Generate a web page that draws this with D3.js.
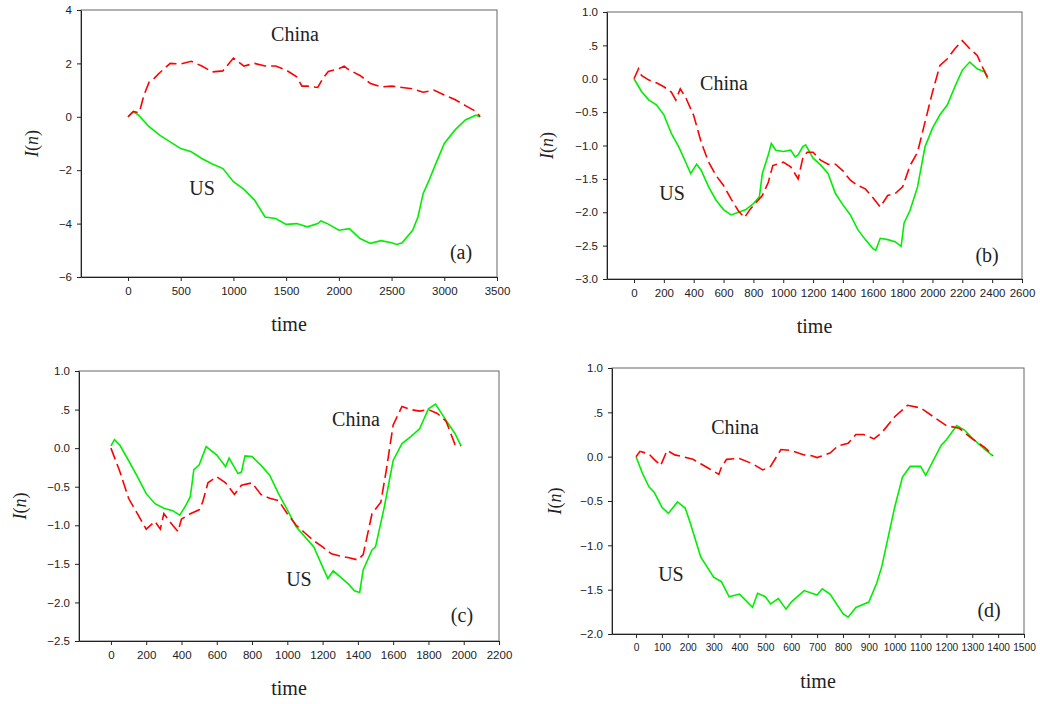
<!DOCTYPE html>
<html>
<head>
<meta charset="utf-8">
<script src="https://cdn.jsdelivr.net/npm/d3@7"></script>
<style>
  body { margin: 0; background: #fff; }
  .tick text { font-family: "Liberation Sans", Arial, sans-serif; font-size: 11.5px; fill: #222; }
  .serif { font-family: "Liberation Serif", "Times New Roman", serif; fill: #222; }
</style>
</head>
<body>
<svg id="chart" width="1040" height="704"></svg>
<script>
// ---- panel (a) ----
const usTimeA = [0, 50, 100, 200, 300, 400, 500, 600, 700, 800, 900, 1000, 1100, 1200, 1300, 1400, 1500, 1600, 1700, 1800, 1830, 1900, 2000, 2100, 2200, 2300, 2400, 2500, 2550, 2600, 2700, 2750, 2800, 2850, 2900, 3000, 3100, 3200, 3300, 3340];
const usA = [0, 0.19, 0.06, -0.37, -0.69, -0.94, -1.19, -1.31, -1.56, -1.77, -1.94, -2.43, -2.72, -3.12, -3.75, -3.81, -4.03, -4.0, -4.12, -4.0, -3.9, -4.02, -4.25, -4.19, -4.56, -4.74, -4.64, -4.72, -4.78, -4.72, -4.25, -3.75, -2.87, -2.43, -1.94, -1.0, -0.5, -0.12, 0.06, 0.0];
const cnTimeA = [0, 50, 100, 120, 150, 200, 250, 300, 400, 500, 600, 700, 800, 900, 1000, 1100, 1200, 1300, 1400, 1500, 1600, 1650, 1700, 1800, 1850, 1900, 2000, 2050, 2100, 2200, 2300, 2400, 2500, 2600, 2700, 2800, 2900, 3000, 3100, 3200, 3300, 3340];
const cnA = [0, 0.2, 0.15, 0.35, 0.8, 1.3, 1.45, 1.65, 2.0, 1.98, 2.08, 1.9, 1.68, 1.72, 2.2, 1.9, 2.0, 1.9, 1.9, 1.75, 1.5, 1.15, 1.15, 1.1, 1.45, 1.7, 1.8, 1.9, 1.75, 1.55, 1.25, 1.12, 1.15, 1.1, 1.05, 0.92, 1.0, 0.82, 0.65, 0.42, 0.2, 0.0];

// ---- panel (b) ----
const usTimeB = [0, 50, 100, 150, 200, 250, 300, 350, 380, 420, 450, 500, 550, 600, 650, 700, 750, 800, 840, 860, 900, 920, 950, 1000, 1050, 1080, 1100, 1130, 1150, 1200, 1250, 1300, 1350, 1400, 1450, 1500, 1550, 1600, 1620, 1650, 1700, 1750, 1790, 1810, 1850, 1900, 1950, 2000, 2050, 2100, 2150, 2200, 2250, 2300, 2350, 2370];
const usB = [0, -0.19, -0.32, -0.39, -0.54, -0.82, -1.02, -1.27, -1.42, -1.28, -1.37, -1.62, -1.82, -1.96, -2.04, -2.0, -1.96, -1.87, -1.77, -1.42, -1.14, -0.97, -1.07, -1.09, -1.07, -1.17, -1.14, -1.02, -0.99, -1.19, -1.29, -1.42, -1.72, -1.89, -2.04, -2.26, -2.41, -2.54, -2.57, -2.39, -2.41, -2.44, -2.51, -2.16, -1.97, -1.62, -1.02, -0.74, -0.54, -0.39, -0.12, 0.13, 0.25, 0.15, 0.1, 0.0];
const cnTimeB = [0, 30, 50, 100, 150, 200, 250, 280, 310, 350, 400, 450, 500, 550, 600, 650, 700, 740, 780, 820, 860, 900, 930, 1000, 1050, 1100, 1130, 1160, 1200, 1250, 1300, 1350, 1400, 1450, 1500, 1550, 1600, 1650, 1700, 1750, 1800, 1850, 1900, 1950, 2000, 2050, 2100, 2150, 2200, 2250, 2300, 2340, 2370];
const cnB = [0, 0.15, 0.05, -0.02, -0.06, -0.12, -0.2, -0.32, -0.15, -0.3, -0.55, -0.95, -1.25, -1.45, -1.6, -1.8, -1.98, -2.08, -1.95, -1.85, -1.75, -1.55, -1.3, -1.25, -1.32, -1.5, -1.2, -1.1, -1.1, -1.22, -1.28, -1.28, -1.38, -1.52, -1.6, -1.65, -1.78, -1.92, -1.75, -1.72, -1.62, -1.3, -1.1, -0.65, -0.2, 0.2, 0.3, 0.45, 0.57, 0.45, 0.35, 0.15, 0.02];

// ---- panel (c) ----
const usTimeC = [0, 20, 50, 100, 150, 200, 250, 300, 350, 390, 420, 450, 470, 500, 540, 600, 650, 670, 720, 740, 760, 800, 850, 900, 950, 1000, 1050, 1100, 1150, 1200, 1230, 1260, 1300, 1350, 1380, 1410, 1430, 1480, 1500, 1550, 1600, 1650, 1700, 1750, 1800, 1840, 1900, 1950, 1985];
const usC = [0.03, 0.11, 0.04, -0.16, -0.37, -0.59, -0.72, -0.78, -0.81, -0.87, -0.76, -0.63, -0.28, -0.22, 0.02, -0.09, -0.24, -0.13, -0.33, -0.31, -0.1, -0.11, -0.22, -0.35, -0.59, -0.8, -1.02, -1.15, -1.28, -1.54, -1.69, -1.59, -1.67, -1.77, -1.85, -1.87, -1.58, -1.32, -1.28, -0.76, -0.16, 0.06, 0.15, 0.25, 0.51, 0.57, 0.36, 0.19, 0.03];
const cnTimeC = [0, 50, 100, 150, 200, 250, 280, 300, 350, 380, 400, 450, 500, 520, 550, 600, 650, 700, 740, 800, 850, 900, 950, 1000, 1050, 1100, 1150, 1200, 1250, 1300, 1350, 1400, 1430, 1480, 1530, 1560, 1600, 1650, 1700, 1750, 1800, 1850, 1900, 1950, 1985];
const cnC = [0, -0.3, -0.65, -0.85, -1.05, -0.95, -1.05, -0.85, -1.0, -1.08, -0.92, -0.85, -0.8, -0.7, -0.45, -0.37, -0.45, -0.6, -0.48, -0.45, -0.6, -0.65, -0.68, -0.85, -1.0, -1.1, -1.2, -1.28, -1.37, -1.4, -1.42, -1.45, -1.38, -0.85, -0.7, -0.3, 0.3, 0.54, 0.5, 0.48, 0.5, 0.45, 0.35, 0.05, 0.03];

// ---- panel (d) ----
const usTimeD = [0, 25, 50, 70, 100, 125, 160, 190, 210, 250, 300, 330, 360, 400, 450, 470, 500, 520, 550, 580, 600, 650, 700, 720, 750, 800, 820, 850, 900, 930, 950, 1000, 1030, 1060, 1100, 1120, 1150, 1180, 1200, 1240, 1270, 1300, 1350, 1380];
const usD = [0, -0.19, -0.34, -0.4, -0.57, -0.64, -0.51, -0.58, -0.75, -1.13, -1.36, -1.41, -1.58, -1.55, -1.7, -1.54, -1.58, -1.66, -1.6, -1.72, -1.64, -1.51, -1.56, -1.49, -1.55, -1.77, -1.81, -1.7, -1.64, -1.43, -1.24, -0.57, -0.23, -0.11, -0.11, -0.21, -0.04, 0.13, 0.19, 0.35, 0.3, 0.21, 0.08, 0.01];
const cnTimeD = [0, 15, 50, 70, 95, 120, 150, 180, 220, 250, 280, 320, 330, 350, 400, 450, 490, 520, 560, 600, 650, 680, 700, 750, 780, 820, 850, 880, 920, 950, 1000, 1050, 1100, 1150, 1200, 1250, 1300, 1350, 1380];
const cnD = [0, 0.06, 0.03, -0.03, -0.1, 0.07, 0.02, 0.0, -0.03, -0.08, -0.13, -0.2, -0.12, -0.03, -0.02, -0.08, -0.15, -0.11, 0.08, 0.07, 0.02, 0.01, -0.01, 0.04, 0.12, 0.15, 0.25, 0.25, 0.2, 0.27, 0.45, 0.58, 0.55, 0.45, 0.35, 0.32, 0.2, 0.1, 0.01];

// axis ticks
const xTicksA = d3.range(0, 3501, 500);
const xTicksB = d3.range(0, 2601, 200);
const xTicksC = d3.range(0, 2201, 200);
const xTicksD = d3.range(0, 1501, 100);
const yTicksA = [4, 2, 0, -2, -4, -6];
const yTicksB = [1, 0.5, 0, -0.5, -1, -1.5, -2, -2.5, -3];
const yTicksC = [1, 0.5, 0, -0.5, -1, -1.5, -2, -2.5];
const yTicksD = [1, 0.5, 0, -0.5, -1, -1.5, -2];

// annotation labels: [text, time, value]
const notesA = [["China", 1584, 3.1], ["US", 702, -2.67], ["(a)", 3159, -5.06]];
const notesB = [["China", 603, -0.06], ["US", 255, -1.71], ["(b)", 2366, -2.64]];
const notesC = [["China", 1389, 0.38], ["US", 1066, -1.70], ["(c)", 1990, -2.16]];
const notesD = [["China", 383, 0.33], ["US", 135, -1.32], ["(d)", 1365, -1.73]];

function fmtDec(v) {
  let s = d3.format(".1f")(v);
  if (s === "0.5") s = ".5";
  if (s === "-0.5") s = "-.5";
  return s;
}

const panels = [
  { left: 81, right: 497, top: 10, bottom: 277, xDom: [-446, 3500], yDom: [-6, 4], xt: xTicksA, yt: yTicksA, fmt: d3.format("d"), ylab: 49, xfs: 11.5,
    us: [usTimeA, usA], cn: [cnTimeA, cnA], notes: notesA },
  { left: 607, right: 1022, top: 12, bottom: 279, xDom: [-181, 2600], yDom: [-3, 1], xt: xTicksB, yt: yTicksB, fmt: fmtDec, ylab: 60, xfs: 11.5,
    us: [usTimeB, usB], cn: [cnTimeB, cnB], notes: notesB },
  { left: 79, right: 499, top: 371, bottom: 641, xDom: [-181, 2200], yDom: [-2.5, 1], xt: xTicksC, yt: yTicksC, fmt: fmtDec, ylab: 59, xfs: 11.5,
    us: [usTimeC, usC], cn: [cnTimeC, cnC], notes: notesC },
  { left: 612, right: 1024, top: 368, bottom: 634, xDom: [-93, 1500], yDom: [-2, 1], xt: xTicksD, yt: yTicksD, fmt: fmtDec, ylab: 57, xfs: 10.2,
    us: [usTimeD, usD], cn: [cnTimeD, cnD], notes: notesD },
];

const svg = d3.select("#chart");

panels.forEach(function (p) {
  const x = d3.scaleLinear().domain(p.xDom).range([p.left, p.right]);
  const y = d3.scaleLinear().domain(p.yDom).range([p.bottom, p.top]);
  const g = svg.append("g");

  // frame
  g.append("rect")
    .attr("x", p.left).attr("y", p.top)
    .attr("width", p.right - p.left).attr("height", p.bottom - p.top)
    .attr("fill", "none").attr("stroke", "#666").attr("stroke-width", 1);

  // axes
  g.append("g")
    .attr("transform", `translate(0, ${p.bottom})`)
    .call(d3.axisBottom(x).tickValues(p.xt).tickFormat(d3.format("d")).tickSize(4).tickSizeOuter(0).tickPadding(6))
    .call((a) => a.selectAll("line, path").attr("stroke", "#222"))
    .call((a) => a.selectAll("text").style("font-size", p.xfs + "px"));
  g.append("g")
    .attr("transform", `translate(${p.left}, 0)`)
    .call(d3.axisLeft(y).tickValues(p.yt).tickFormat(p.fmt).tickSize(4).tickSizeOuter(0).tickPadding(5))
    .call((a) => a.selectAll("line, path").attr("stroke", "#222"));

  // lines
  const line = d3.line().x((d) => x(d[0])).y((d) => y(d[1]));
  const usPts = d3.zip(p.us[0], p.us[1]);
  const cnPts = d3.zip(p.cn[0], p.cn[1]);
  g.append("path").datum(usPts).attr("d", line)
    .attr("fill", "none").attr("stroke", "#00ee00").attr("stroke-width", 1.6);
  g.append("path").datum(cnPts).attr("d", line)
    .attr("fill", "none").attr("stroke", "#ff0000").attr("stroke-width", 1.6)
    .attr("stroke-dasharray", "12,5");

  // annotations
  g.selectAll(".note").data(p.notes).join("text")
    .attr("class", "serif")
    .attr("x", (d) => x(d[1])).attr("y", (d) => y(d[2]))
    .attr("dy", "0.35em")
    .attr("text-anchor", "middle")
    .style("font-size", "20px")
    .text((d) => d[0]);

  // axis titles
  g.append("text").attr("class", "serif")
    .attr("x", (p.left + p.right) / 2).attr("y", p.bottom + 54)
    .attr("text-anchor", "middle").style("font-size", "20px")
    .text("time");
  const yl = g.append("text").attr("class", "serif")
    .attr("transform", `translate(${p.left - p.ylab}, ${(p.top + p.bottom) / 2}) rotate(-90)`)
    .attr("dy", "0.35em")
    .attr("text-anchor", "middle").style("font-size", "18px");
  yl.append("tspan").style("font-style", "italic").text("I");
  yl.append("tspan").text("(");
  yl.append("tspan").style("font-style", "italic").text("n");
  yl.append("tspan").text(")");
});
</script>
</body>
</html>
